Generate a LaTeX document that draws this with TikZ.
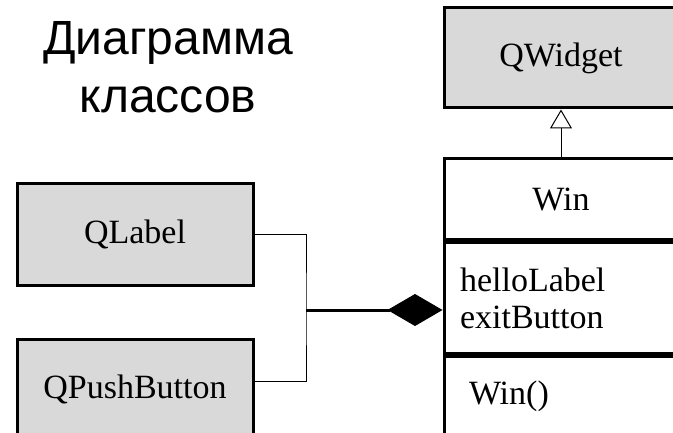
\documentclass[tikz,border=0pt]{standalone}
\usepackage{fontspec}
\setmainfont{Liberation Serif}
\newfontfamily\titlefont{Liberation Sans}
\usetikzlibrary{arrows.meta, positioning, calc}
\definecolor{clsfill}{HTML}{D9D9D9}

\begin{document}
\begin{tikzpicture}[x=1pt, y=1pt,
    every node/.style={font=\fontsize{34}{37}\selectfont},
    cls/.style={draw, line width=3pt, minimum width=234pt, inner sep=0pt},
    lib/.style={cls, fill=clsfill},
    link/.style={draw, line width=1pt}]

  \useasboundingbox (0,0) rectangle (673,432);
  \clip (0,0) rectangle (673,432);

  % title
  \node[font=\titlefont\fontsize{48}{58}\selectfont, align=center,
        anchor=north, inner sep=0pt] (title) at (168,411) {Диаграмма\\классов};

  % library classes
  \node[lib, minimum height=100pt] (qwidget) at (561,374) {QWidget};
  \node[lib, minimum width=236pt, minimum height=101pt] (qlabel) at (135,197.5) {QLabel};
  \node[lib, minimum width=236pt, minimum height=101pt, below=51pt of qlabel] (qpush) {QPushButton};

  % class Win: name, attributes, operations
  \node[cls, minimum height=81pt] (winname) at (561,232.5) {Win};
  \node[cls, minimum height=110pt, below=0pt of winname, inner xsep=16pt,
        text width=202pt, align=left] (winattr) {helloLabel\\exitButton};
  \node[cls, minimum height=80pt, below=0pt of winattr, inner xsep=25pt,
        text width=184pt, align=left] (winops) {Win()};

  % composition
  \coordinate (joint) at (306,122);
  \draw[link] (qlabel.east) -| (joint) |- ($(qpush.east)+(0,8.5)$);
  \draw[line width=3pt, -{Diamond[length=55pt, width=32pt, line width=1pt]}]
    (joint) -- (joint -| winattr.west);

  % inheritance
  \draw[link, -{Triangle[open, length=19pt, width=22pt]}] (winname.north) -- (qwidget.south);
\end{tikzpicture}
\end{document}
